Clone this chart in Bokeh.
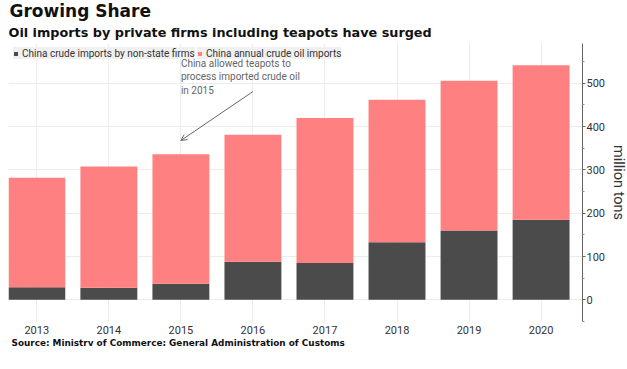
from bokeh.plotting import figure
from bokeh.models import (ColumnDataSource, FixedTicker, Title, Legend, LegendItem,
                          Arrow, OpenHead, Range1d)
from bokeh.core.properties import value
from bokeh.embed import file_html
from bokeh.resources import INLINE

years = [2013, 2014, 2015, 2016, 2017, 2018, 2019, 2020]
non_state = [29, 28, 37, 88, 85, 133, 160, 185]
total = [282, 308, 336, 381, 420, 462, 506, 542]

y_ticks = [0, 100, 200, 300, 400, 500]
y_minor = [-50, 50, 150, 250, 350, 450, 550]

note_text = ["China allowed teapots to\nprocess imported crude oil\nin 2015"]
note_x = [2015.0]
note_y = [558]
arrow_from = (2016.0, 481)
arrow_to = (2015.0, 368)

DARK = "#4b4b4b"
PINK = "#ff8080"
FONT = "Roboto"

src = ColumnDataSource(dict(x=years, ns=non_state, tot=total))

p = figure(frame_width=574, frame_height=278, output_backend="svg", toolbar_location=None,
           x_range=Range1d(2012.607, 2020.575), y_range=Range1d(-50, 592),
           y_axis_location="right", title=None,
           min_border_left=8, min_border_right=0, min_border_top=0, min_border_bottom=0)
p.outline_line_color = None

r_dark = p.vbar(x="x", top="ns", bottom=0, width=0.79, source=src,
                fill_color=DARK, line_color=None)
r_pink = p.vbar(x="x", top="tot", bottom="ns", width=0.79, source=src,
                fill_color=PINK, line_color=None)

# axes
p.xaxis.ticker = FixedTicker(ticks=years)
p.xaxis.axis_line_color = None
p.xaxis.major_tick_line_color = None
p.xaxis.minor_tick_line_color = None
p.xaxis.major_tick_out = 0
p.xaxis.major_tick_in = 0
p.xaxis.major_label_standoff = 4
p.xaxis.major_label_text_font = FONT
p.xaxis.major_label_text_font_size = "11px"
p.xaxis.major_label_text_color = "#333333"

p.yaxis.ticker = FixedTicker(ticks=y_ticks, minor_ticks=y_minor)
p.yaxis.axis_line_color = "#666666"
p.yaxis.major_tick_line_color = "#666666"
p.yaxis.minor_tick_line_color = "#999999"
p.yaxis.major_tick_out = 3
p.yaxis.major_tick_in = 0
p.yaxis.minor_tick_out = 2
p.yaxis.minor_tick_in = 0
p.yaxis.major_label_standoff = 1
p.yaxis.major_label_text_font = FONT
p.yaxis.major_label_text_font_size = "11px"
p.yaxis.major_label_text_color = "#333333"
p.yaxis.axis_label = "million tons"
p.yaxis.axis_label_text_font = FONT
p.yaxis.axis_label_text_font_size = "14.5px"
p.yaxis.axis_label_text_font_style = "normal"
p.yaxis.axis_label_text_color = "#333333"
p.yaxis.axis_label_standoff = 2

p.xgrid.ticker = FixedTicker(ticks=years)
p.xgrid.grid_line_color = "#ececec"
p.ygrid.ticker = FixedTicker(ticks=y_ticks)
p.ygrid.grid_line_color = "#ececec"

# annotation
p.text(x=note_x, y=note_y, text=note_text, text_font=value(FONT),
       text_font_size="10px", text_color="#666666", text_align="left",
       text_baseline="top", text_line_height=1.2, level="overlay")
p.add_layout(Arrow(end=OpenHead(size=6, line_color="#666666", line_width=1),
                   x_start=arrow_from[0], y_start=arrow_from[1],
                   x_end=arrow_to[0], y_end=arrow_to[1],
                   line_color="#666666", line_width=1))

# legend (two abutting legends so each item keeps its own width)
leg_kw = dict(orientation="horizontal", background_fill_color="#f0f0f0",
              background_fill_alpha=1, border_line_color=None, margin=0,
              padding=2, spacing=0, glyph_width=5, glyph_height=5, label_standoff=4,
              label_text_font=FONT, label_text_font_size="10px",
              label_text_color="#333333", label_height=12)
leg1 = Legend(items=[LegendItem(label="China crude imports by non-state firms", renderers=[r_dark])],
              location=(5, 262), **leg_kw)
leg2 = Legend(items=[LegendItem(label="China annual crude oil imports", renderers=[r_pink])],
              location=(189, 262), **leg_kw)
p.add_layout(leg1)
p.add_layout(leg2)

# titles
p.add_layout(Title(text="Source:  Ministry of Commerce; General Administration of Customs",
                   text_font="DejaVu Sans", text_font_size="8.9px", text_font_style="bold",
                   text_color="#111111", align="left", offset=3, standoff=-2), "below")
p.add_layout(Title(text="Oil imports by private firms including teapots have surged",
                   text_font="DejaVu Sans", text_font_size="12.8px", text_font_style="bold",
                   text_color="#111111", align="left", offset=0, standoff=7), "above")
p.add_layout(Title(text="Growing Share",
                   text_font="DejaVu Sans", text_font_size="17px", text_font_style="bold",
                   text_color="#111111", align="left", offset=1, standoff=-3), "above")

open("out.html", "w").write(file_html(p, INLINE))
